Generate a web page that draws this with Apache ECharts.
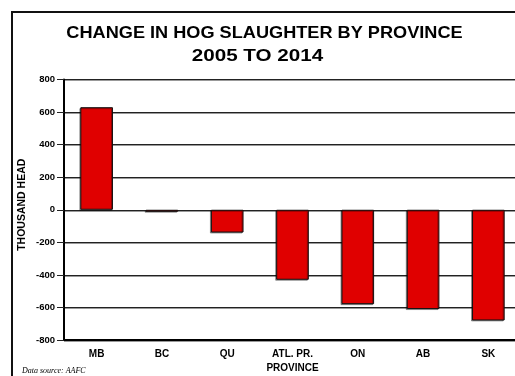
<!DOCTYPE html>
<html>
<head>
<meta charset="utf-8">
<script src="https://cdn.jsdelivr.net/npm/echarts@6/dist/echarts.min.js"></script>
<style>
  html, body { margin: 0; padding: 0; background: #fff; }
  #chart { width: 515px; height: 376px; }
</style>
</head>
<body>
<div id="chart"></div>
<script>
// Change in hog slaughter, 2005 to 2014 (thousand head)
const provinces = ['MB', 'BC', 'QU', 'ATL. PR.', 'ON', 'AB', 'SK'];
const changeThousandHead = [630, -12, -140, -430, -580, -610, -680];
const yTicks = { min: -800, max: 800, step: 200 };

const chart = echarts.init(document.getElementById('chart'), null, { renderer: 'canvas' });

const sans = '"Liberation Sans", Arial, Helvetica, sans-serif';

chart.setOption({
  animation: false,
  backgroundColor: '#ffffff',
  grid: { left: 64, top: 79.5, width: 457, bottom: 36, containLabel: false, outerBoundsMode: 'none' },
  xAxis: {
    type: 'category',
    data: provinces,
    name: 'PROVINCE',
    nameLocation: 'middle',
    nameGap: 23,
    nameMoveOverlap: false,
    nameTextStyle: { fontFamily: sans, fontWeight: 'bold', fontSize: 10, color: '#000' },
    axisLine: { onZero: false, lineStyle: { color: '#000', width: 2 } },
    axisTick: { alignWithLabel: true, length: 5, lineStyle: { color: '#555', width: 1 } },
    axisLabel: { fontFamily: sans, fontWeight: 'bold', fontSize: 10, color: '#000', margin: 9, interval: 0 }
  },
  yAxis: {
    type: 'value',
    min: yTicks.min,
    max: yTicks.max,
    interval: yTicks.step,
    name: 'THOUSAND HEAD',
    nameLocation: 'middle',
    nameGap: 36,
    nameRotate: 90,
    nameMoveOverlap: false,
    nameTextStyle: { fontFamily: sans, fontWeight: 'bold', fontSize: 10.5, color: '#000', padding: [0, 0, 0, 10] },
    axisLine: { show: true, lineStyle: { color: '#000', width: 2 } },
    axisTick: { show: true, length: 7, lineStyle: { color: '#222', width: 1 } },
    axisLabel: { fontFamily: sans, fontWeight: 'bold', fontSize: 9.5, color: '#000', margin: 9 },
    splitLine: {
      show: true,
      lineStyle: { color: '#222', width: 1, shadowColor: '#999', shadowOffsetY: 1, shadowBlur: 0 }
    }
  },
  series: [{
    type: 'bar',
    data: changeThousandHead,
    barWidth: '50%',
    itemStyle: {
      color: '#e00000',
      borderColor: '#111',
      borderWidth: 1,
      shadowColor: 'rgba(0,0,0,0.35)',
      shadowOffsetX: -1,
      shadowOffsetY: 1,
      shadowBlur: 0
    }
  }],
  graphic: [
    {
      type: 'rect',
      shape: { x: 12, y: 12, width: 620, height: 420 },
      style: { fill: 'none', stroke: '#111', lineWidth: 2 },
      silent: true
    },
    {
      type: 'text',
      x: 264.5, y: 33,
      scaleX: 1.1,
      style: {
        text: 'CHANGE IN HOG SLAUGHTER BY PROVINCE',
        font: 'bold 16.5px ' + sans,
        fill: '#000',
        textAlign: 'center',
        textVerticalAlign: 'middle'
      }
    },
    {
      type: 'text',
      x: 257.5, y: 56,
      scaleX: 1.25,
      style: {
        text: '2005 TO 2014',
        font: 'bold 16.5px ' + sans,
        fill: '#000',
        textAlign: 'center',
        textVerticalAlign: 'middle'
      }
    },
    {
      type: 'text',
      x: 22, y: 371,
      style: {
        text: 'Data source: AAFC',
        font: 'italic 8px "Liberation Serif", "Times New Roman", serif',
        fill: '#000',
        textAlign: 'left',
        textVerticalAlign: 'middle'
      }
    }
  ]
});
</script>
</body>
</html>
